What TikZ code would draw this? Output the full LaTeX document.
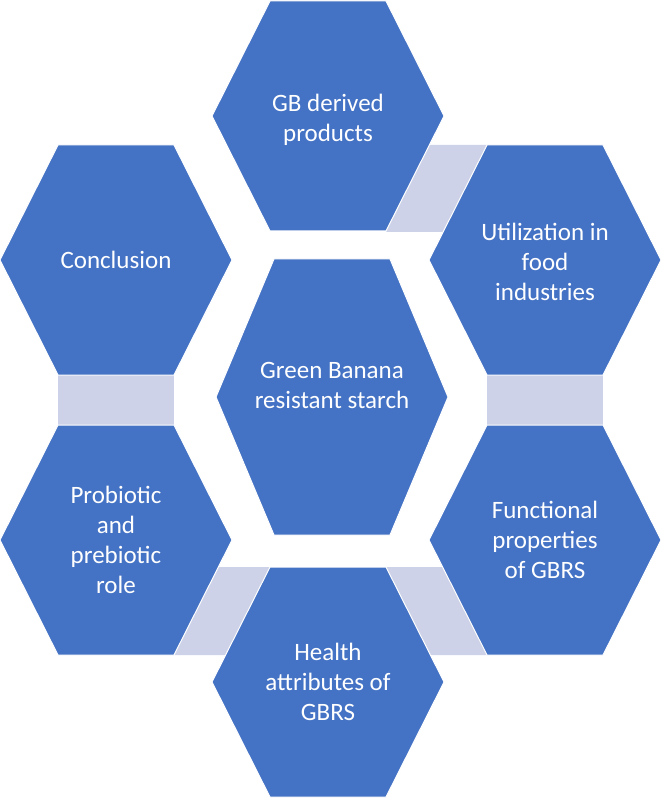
\documentclass[tikz,border=0pt]{standalone}
\usepackage{fontspec}
\setmainfont{Carlito}
\begin{document}
\begin{tikzpicture}[x=1pt,y=-1pt,
  hexbox/.style={fill=hexblue,draw=white,line width=1pt},
  gapband/.style={fill=gapgray},
  lbl/.style={text=white,font=\fontsize{25}{30}\selectfont,align=center}]
\definecolor{hexblue}{HTML}{4472C4}
\definecolor{gapgray}{HTML}{CDD2E8}
\useasboundingbox (0,0) rectangle (661,799);
\fill[white] (0,0) rectangle (661,799);
% gap bands
\fill[gapband] (429,145)--(487,145)--(443,232)--(386,232)--cycle;
\fill[gapband] (58,375) rectangle (174,425);
\fill[gapband] (487,375) rectangle (603,425);
\fill[gapband] (386,567)--(443,567)--(487,655)--(430,655)--cycle;
\fill[gapband] (218,567)--(270,567)--(226,655)--(174,655)--cycle;
\newcommand{\hexat}[6]{%
  \begin{scope}[shift={(#1,#2)}]
  \draw[hexbox] (-116,0)--(-58,-#6)--(58,-#6)--(116,0)--(58,#6)--(-58,#6)--cycle;
  \node[lbl] (#3) at (0,#5) {#4};
  \end{scope}}
\hexat{328}{116}{gb}{GB derived\\products}{4}{115}
\hexat{116}{260}{concl}{Conclusion}{0}{115}
\hexat{545}{260}{util}{Utilization in\\food\\industries}{2}{115}
\hexat{332}{397}{center}{Green Banana\\resistant starch}{-12}{138}
\hexat{116}{540}{probio}{Probiotic\\and\\prebiotic\\role}{0}{115}
\hexat{545}{540}{func}{Functional\\properties\\of GBRS}{0}{115}
\hexat{328}{682}{health}{Health\\attributes of\\GBRS}{0}{115}
\end{tikzpicture}
\end{document}
